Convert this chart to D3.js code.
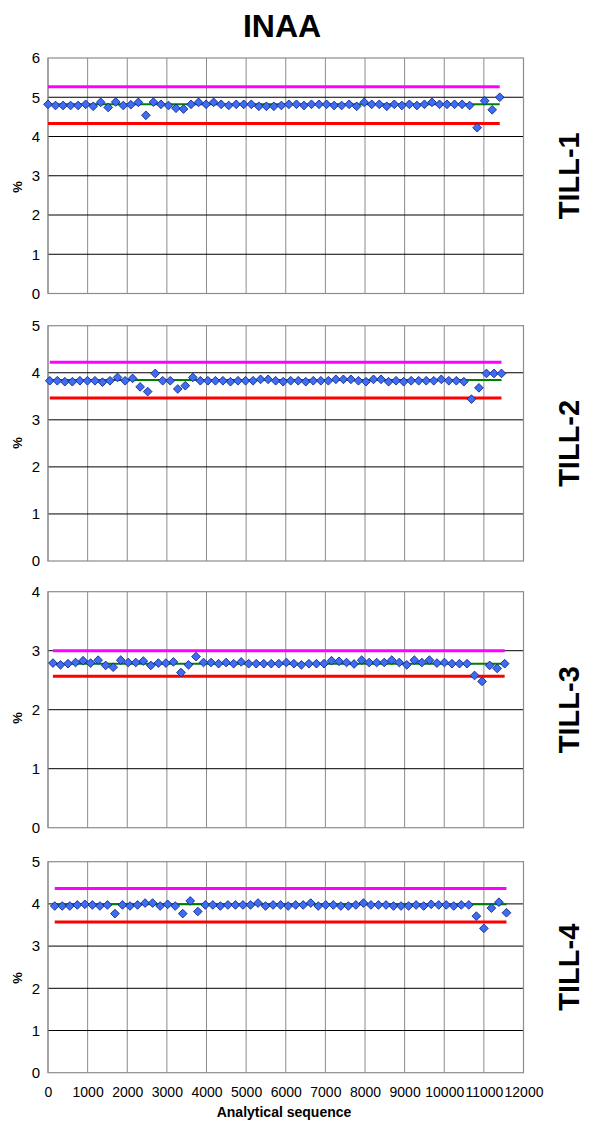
<!DOCTYPE html>
<html><head><meta charset="utf-8">
<script src="https://cdn.jsdelivr.net/npm/d3@7"></script>
<style>body{margin:0;background:#fff;}svg{display:block;font-family:"Liberation Sans",Arial,sans-serif;}</style>
</head><body><svg id="c" width="589" height="1129"></svg>
<script>
const title = "INAA";
const panelNames = ["TILL-1","TILL-2","TILL-3","TILL-4"];
const xLabel = "Analytical sequence";
const yLabel = "%";
const xTicks = [0,1000,2000,3000,4000,5000,6000,7000,8000,9000,10000,11000,12000];
const yMax = [6,5,4,5];

const seq1 = [0,190,380,570,760,950,1140,1330,1520,1710,1900,2090,2280,2470,2660,2850,3040,3230,3420,3610,3800,3990,4180,4370,4560,4750,4940,5130,5320,5510,5700,5890,6080,6270,6460,6650,6840,7030,7220,7410,7600,7790,7980,8170,8360,8550,8740,8930,9120,9310,9500,9690,9880,10070,10260,10450,10640,10830,11020,11210,11400];
const seq2 = [45,235,425,615,805,995,1185,1375,1565,1755,1945,2135,2325,2515,2705,2895,3085,3275,3465,3655,3845,4035,4225,4415,4605,4795,4985,5175,5365,5555,5745,5935,6125,6315,6505,6695,6885,7075,7265,7455,7645,7835,8025,8215,8405,8595,8785,8975,9165,9355,9545,9735,9925,10115,10305,10495,10685,10875,11065,11255,11445];
const seq3 = [125,315,505,695,885,1075,1265,1455,1645,1835,2025,2215,2405,2595,2785,2975,3165,3355,3545,3735,3925,4115,4305,4495,4685,4875,5065,5255,5445,5635,5825,6015,6205,6395,6585,6775,6965,7155,7345,7535,7725,7915,8105,8295,8485,8675,8865,9055,9245,9435,9625,9815,10005,10195,10385,10575,10765,10955,11145,11335,11525];
const seq4 = [170,360,550,740,930,1120,1310,1500,1690,1880,2070,2260,2450,2640,2830,3020,3210,3400,3590,3780,3970,4160,4350,4540,4730,4920,5110,5300,5490,5680,5870,6060,6250,6440,6630,6820,7010,7200,7390,7580,7770,7960,8150,8340,8530,8720,8910,9100,9290,9480,9670,9860,10050,10240,10430,10620,10810,11000,11190,11380,11570];

const till1 = [4.82,4.79,4.79,4.79,4.79,4.82,4.77,4.87,4.74,4.88,4.79,4.81,4.87,4.54,4.875,4.82,4.79,4.72,4.70,4.82,4.87,4.82,4.87,4.82,4.79,4.82,4.82,4.82,4.77,4.77,4.77,4.79,4.82,4.82,4.79,4.82,4.82,4.82,4.79,4.79,4.82,4.77,4.87,4.82,4.82,4.77,4.82,4.79,4.82,4.79,4.82,4.87,4.82,4.82,4.82,4.82,4.79,4.225,4.91,4.68,5.0];
const till2 = [3.83,3.83,3.81,3.81,3.83,3.83,3.83,3.80,3.83,3.90,3.83,3.88,3.70,3.60,3.985,3.83,3.83,3.655,3.725,3.90,3.83,3.83,3.83,3.83,3.81,3.83,3.83,3.83,3.86,3.86,3.83,3.81,3.83,3.83,3.81,3.83,3.83,3.83,3.86,3.86,3.86,3.83,3.81,3.86,3.86,3.81,3.83,3.81,3.83,3.83,3.83,3.83,3.86,3.83,3.83,3.81,3.44,3.68,3.985,3.985,3.985];
const till3 = [2.79,2.76,2.78,2.80,2.83,2.79,2.84,2.75,2.72,2.84,2.80,2.80,2.825,2.75,2.79,2.79,2.81,2.63,2.76,2.90,2.80,2.80,2.78,2.80,2.78,2.81,2.78,2.78,2.78,2.78,2.78,2.80,2.78,2.76,2.78,2.78,2.78,2.83,2.82,2.80,2.775,2.84,2.80,2.80,2.80,2.84,2.80,2.76,2.84,2.80,2.84,2.79,2.80,2.78,2.78,2.78,2.58,2.48,2.75,2.70,2.78];
const till4 = [3.95,3.95,3.95,3.975,3.99,3.975,3.95,3.975,3.77,3.975,3.95,3.975,4.02,4.02,3.95,3.99,3.95,3.77,4.07,3.82,3.975,3.975,3.95,3.975,3.975,3.975,3.975,4.02,3.95,3.975,3.975,3.95,3.975,3.975,4.02,3.95,3.975,3.975,3.95,3.95,3.975,4.02,3.975,3.975,3.975,3.95,3.95,3.95,3.975,3.95,3.99,3.975,3.975,3.95,3.975,3.975,3.71,3.42,3.90,4.04,3.79];

const upperLimit = [5.27,4.225,3.0,4.365];
const lowerLimit = [4.33,3.465,2.565,3.57];
const meanValue = [4.82,3.845,2.78,3.99];

const seqs = [seq1,seq2,seq3,seq4];
const vals = [till1,till2,till3,till4];

// layout
const left = 48, right = 523.5;
const tops = [58, 325.7, 591.7, 861.7];
const bottoms = [293.5, 561, 827.7, 1072.7];
const pctY = [187, 443, 718, 978];

const svg = d3.select("#c");
const x = d3.scaleLinear().domain([0,12000]).range([left,right]);

svg.append("text").attr("x",282).attr("y",37).attr("text-anchor","middle")
  .attr("font-size",32).attr("font-weight","bold").text(title);

for (let p=0;p<4;p++){
  const y = d3.scaleLinear().domain([0,yMax[p]]).range([bottoms[p],tops[p]]);
  const g = svg.append("g");
  g.selectAll(".vg").data(xTicks).enter().append("line")
    .attr("x1",d=>x(d)).attr("x2",d=>x(d)).attr("y1",tops[p]).attr("y2",bottoms[p])
    .attr("stroke","#8c8c8c").attr("stroke-width",1);
  const yt = d3.range(0,yMax[p]+1);
  g.selectAll(".hg").data(yt.filter(d=>d>0 && d<yMax[p])).enter().append("line")
    .attr("x1",left).attr("x2",right).attr("y1",d=>y(d)).attr("y2",d=>y(d))
    .attr("stroke","#000").attr("stroke-width",1);
  g.append("rect").attr("x",left).attr("y",tops[p]).attr("width",right-left).attr("height",bottoms[p]-tops[p])
    .attr("fill","none").attr("stroke","#8c8c8c").attr("stroke-width",1.2);
  const ya = d3.axisLeft(y).tickValues(yt).tickFormat(d3.format("d")).tickSize(0).tickPadding(8);
  const yg = g.append("g").attr("transform",`translate(${left},0)`).call(ya);
  yg.select(".domain").remove();
  yg.selectAll("text").attr("font-size",15).attr("fill","#000").attr("font-family","Liberation Sans, Arial, sans-serif");
  const xs = seqs[p];
  const x0 = x(xs[0]), x1 = x(xs[xs.length-1]);
  g.append("line").attr("x1",x0).attr("x2",x1).attr("y1",y(upperLimit[p])).attr("y2",y(upperLimit[p]))
    .attr("stroke","#ff00ff").attr("stroke-width",3);
  g.append("line").attr("x1",x0).attr("x2",x1).attr("y1",y(lowerLimit[p])).attr("y2",y(lowerLimit[p]))
    .attr("stroke","#ff0000").attr("stroke-width",3);
  g.append("line").attr("x1",x0).attr("x2",x1).attr("y1",y(meanValue[p])).attr("y2",y(meanValue[p]))
    .attr("stroke","#008000").attr("stroke-width",2);
  const pts = xs.map((s,i)=>({s, v: vals[p][i]}));
  g.selectAll(".pt").data(pts).enter().append("path")
    .attr("d", d3.symbol().type(d3.symbolSquare).size(38))
    .attr("transform",d=>`translate(${x(d.s)},${y(d.v)}) rotate(45)`)
    .attr("fill","#3d6df0").attr("stroke","#10208a").attr("stroke-width",0.8);
  svg.append("text").attr("transform",`translate(22,${pctY[p]}) rotate(-90)`).attr("text-anchor","middle")
    .attr("font-size",13).attr("font-weight","bold").text(yLabel);
  svg.append("text").attr("transform",`translate(579,${(tops[p]+bottoms[p])/2}) rotate(-90)`).attr("text-anchor","middle")
    .attr("font-size",29).attr("font-weight","bold").text(panelNames[p]);
}

const xa = d3.axisBottom(x).tickValues(xTicks).tickFormat(d3.format("d")).tickSize(0).tickPadding(14);
const xg = svg.append("g").attr("transform",`translate(0,${bottoms[3]})`).call(xa);
xg.select(".domain").remove();
xg.selectAll("text").attr("font-size",14).attr("fill","#000").attr("font-family","Liberation Sans, Arial, sans-serif");

svg.append("text").attr("x",284).attr("y",1117).attr("text-anchor","middle")
  .attr("font-size",14).attr("font-weight","bold").text(xLabel);
</script>
</body></html>
